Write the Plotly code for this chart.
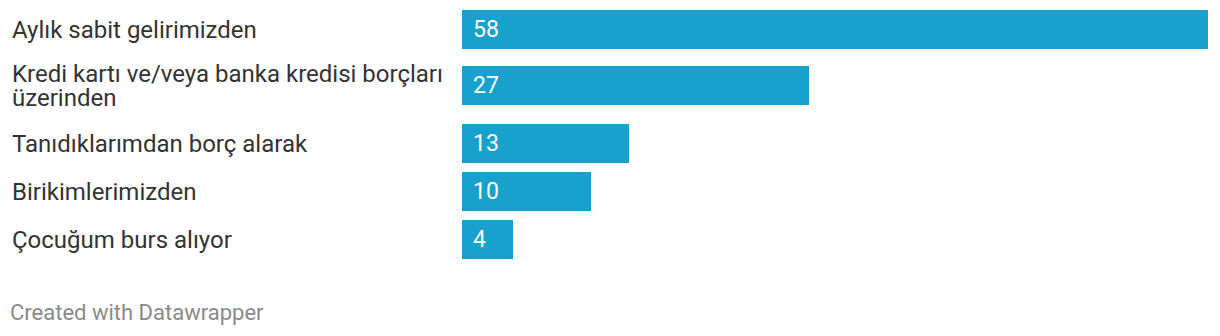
import plotly.graph_objects as go

categories = [
    "Aylık sabit gelirimizden",
    "Kredi kartı ve/veya banka kredisi borçları<br>üzerinden",
    "Tanıdıklarımdan borç alarak",
    "Birikimlerimizden",
    "Çocuğum burs alıyor",
]
values = [58, 27, 13, 10, 4]

W, H = 1220, 336
BAR_COLOR = "#18a1cd"
FONT = "Roboto"
LINE_H = 24

bar_h, gap, extra_before, extra_after = 39, 9, 8, 10
centers = []
top = 10
for c in categories:
    lines = c.count("<br>") + 1
    if lines > 1:
        top += extra_before * (lines - 1)
    centers.append(top + bar_h / 2)
    top += bar_h + gap + (extra_after * (lines - 1))

fig = go.Figure()
fig.add_trace(go.Bar(
    x=values, y=centers, orientation="h",
    width=bar_h, marker=dict(color=BAR_COLOR, line=dict(width=0)),
    hoverinfo="skip", showlegend=False,
))

annotations = []
for c, v, yc in zip(categories, values, centers):
    parts = c.split("<br>")
    n = len(parts)
    for i, p in enumerate(parts):
        annotations.append(dict(
            x=10 / W, xref="paper", y=yc + (i - (n - 1) / 2) * LINE_H, yref="y",
            text=p, showarrow=False, xanchor="left", yanchor="middle", align="left",
            font=dict(family=FONT, size=24, color="#333333"),
        ))
    annotations.append(dict(
        x=0, xref="x", y=yc, yref="y", text=str(v), showarrow=False,
        xanchor="left", yanchor="middle", xshift=9,
        font=dict(family=FONT, size=23, color="#ffffff"),
    ))
annotations.append(dict(
    x=8 / W, xref="paper", y=312, yref="y", text="Created with Datawrapper",
    showarrow=False, xanchor="left", yanchor="middle",
    font=dict(family=FONT, size=22, color="#8a8a8a"),
))

fig.update_layout(
    width=W, height=H,
    margin=dict(l=0, r=0, t=0, b=0),
    paper_bgcolor="white", plot_bgcolor="white",
    xaxis=dict(range=[0, max(values)], domain=[462 / W, 1208 / W],
               visible=False, fixedrange=True),
    yaxis=dict(range=[H, 0], domain=[0, 1], visible=False, fixedrange=True),
    annotations=annotations,
    bargap=0,
)

fig.write_html("out.html", config={"displayModeBar": False})
